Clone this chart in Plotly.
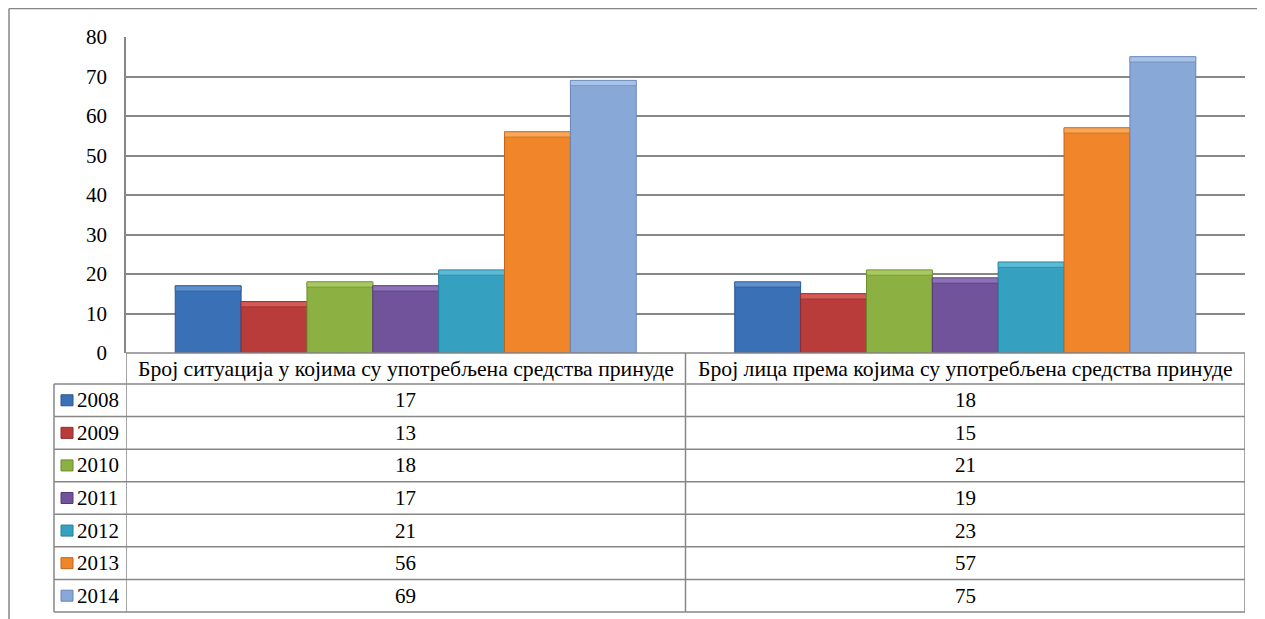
import plotly.graph_objects as go

categories = ["Број ситуација у којима су употребљена средства принуде",
              "Број лица према којима су употребљена средства принуде"]
years = ["2008", "2009", "2010", "2011", "2012", "2013", "2014"]
values = {
    "2008": [17, 18],
    "2009": [13, 15],
    "2010": [18, 21],
    "2011": [17, 19],
    "2012": [21, 23],
    "2013": [56, 57],
    "2014": [69, 75],
}
colors = ["#3A70B5", "#B93C3A", "#8DB042", "#71539C", "#35A0C0", "#F08629", "#88A8D8"]
top_colors = ["#5F8FCE", "#D65A57", "#A8C862", "#8C72B6", "#5BBAD6", "#F9A659", "#A8C3E8"]
edge_colors = ["#2A5590", "#8E2B2A", "#6B8A2E", "#55397A", "#257E99", "#C0661A", "#6985B5"]
y_ticks = [0, 10, 20, 30, 40, 50, 60, 70, 80]

W, H = 1265, 619
OFF = 8  # page body margin
GRID = "#878787"
FONT = "Liberation Serif"
FS = 21
FS_HEAD = 21.7

# layout geometry (page pixels)
PL, PR, PT, PB = 126, 1245, 37, 353
ROW_TOP = 384
ROW_H = (612 - 384) / 7
TBL_LEFT = 54
BEVEL = 1.3  # data units of the lighter top face


def px(x):
    return (x - OFF) / W


def py(y):
    return 1 - (y - OFF) / H


fig = go.Figure()
for i, yr in enumerate(years):
    fig.add_trace(go.Bar(
        x=[0, 1], y=values[yr], name=yr, offsetgroup=yr,
        marker=dict(color=colors[i], line=dict(color=edge_colors[i], width=1)),
        showlegend=False, hoverinfo="y",
    ))
    fig.add_trace(go.Bar(
        x=[0, 1], y=[BEVEL, BEVEL], base=[v - BEVEL for v in values[yr]], offsetgroup=yr,
        marker=dict(color=top_colors[i], line=dict(color=edge_colors[i], width=0.6)),
        showlegend=False, hoverinfo="skip",
    ))

shapes = []
annotations = []
line = dict(color=GRID, width=1.5)

# outer frame (top and left)
shapes.append(dict(type="line", xref="paper", yref="paper", x0=px(9), x1=1, y0=py(8.5), y1=py(8.5), line=line))
shapes.append(dict(type="line", xref="paper", yref="paper", x0=px(9), x1=px(9), y0=py(8.5), y1=0, line=line))

# table horizontal lines
shapes.append(dict(type="line", xref="x", yref="paper", x0=-0.5, x1=1.5, y0=py(PB), y1=py(PB), line=line))
for r in range(8):
    yy = ROW_TOP + r * ROW_H
    shapes.append(dict(type="line", xref="paper", yref="paper", x0=px(TBL_LEFT), x1=px(PR),
                       y0=py(yy), y1=py(yy), line=line))
# table vertical lines
shapes.append(dict(type="line", xref="paper", yref="paper", x0=px(TBL_LEFT), x1=px(TBL_LEFT),
                   y0=py(ROW_TOP), y1=py(ROW_TOP + 7 * ROW_H), line=line))
for xv in [-0.5, 0.5, 1.5]:
    shapes.append(dict(type="line", xref="x", yref="paper", x0=xv, x1=xv,
                       y0=py(PB), y1=py(ROW_TOP + 7 * ROW_H), line=line))

# header labels
for j, cat in enumerate(categories):
    annotations.append(dict(x=j, xref="x", y=py((PB + ROW_TOP) / 2), yref="paper", text=cat,
                            showarrow=False, font=dict(family=FONT, size=FS_HEAD, color="black"),
                            xanchor="center", yanchor="middle"))

# rows
for i, yr in enumerate(years):
    yc = ROW_TOP + (i + 0.5) * ROW_H
    shapes.append(dict(type="rect", xref="paper", yref="paper", x0=px(61), x1=px(73),
                       y0=py(yc - 5.5), y1=py(yc + 5.5),
                       fillcolor=colors[i], line=dict(color=edge_colors[i], width=1)))
    annotations.append(dict(x=px(75), xref="paper", y=py(yc), yref="paper", text=yr,
                            showarrow=False, font=dict(family=FONT, size=FS, color="black"),
                            xanchor="left", yanchor="middle"))
    for j in range(2):
        annotations.append(dict(x=j, xref="x", y=py(yc), yref="paper", text=str(values[yr][j]),
                                showarrow=False, font=dict(family=FONT, size=FS, color="black"),
                                xanchor="center", yanchor="middle"))

fig.update_layout(
    width=W, height=H,
    margin=dict(l=0, r=0, t=0, b=0),
    paper_bgcolor="white", plot_bgcolor="white",
    barmode="group", bargap=0.176, bargroupgap=0,
    xaxis=dict(domain=[px(PL), px(PR)], range=[-0.5, 1.5], showticklabels=False,
               showgrid=False, zeroline=False, showline=False, fixedrange=True),
    yaxis=dict(domain=[py(PB), py(PT)], range=[0, 80], tickvals=y_ticks,
               showgrid=True, gridcolor=GRID, gridwidth=1.5, zeroline=False,
               showline=True, linecolor=GRID, linewidth=1.5, ticks="",
               ticklabelstandoff=13, automargin=False,
               tickfont=dict(family=FONT, size=FS, color="black")),
    shapes=shapes, annotations=annotations, font=dict(family=FONT),
)

fig.write_html("out.html")
